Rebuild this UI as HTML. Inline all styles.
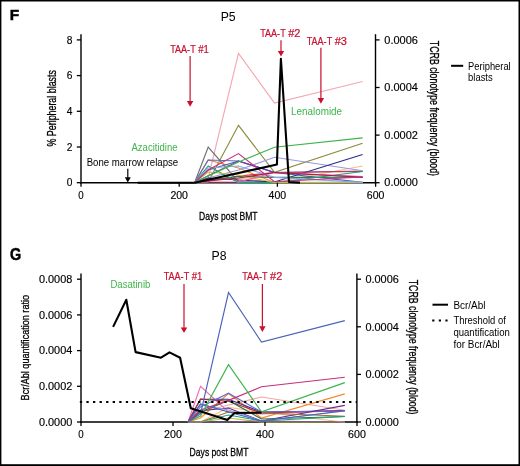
<!DOCTYPE html>
<html><head><meta charset="utf-8"><style>
html,body{margin:0;padding:0;background:#fff;overflow:hidden;width:520px;height:466px;}
svg{display:block;will-change:transform;}
text{font-family:"Liberation Sans", sans-serif;}
</style></head><body>
<svg width="520" height="466" viewBox="0 0 520 466">
<rect width="520" height="466" fill="#fff"/>
<line x1="81" y1="34.2" x2="81" y2="183.4" stroke="#000" stroke-width="1.4" />
<line x1="80.3" y1="182.7" x2="376.2" y2="182.7" stroke="#000" stroke-width="1.4" />
<line x1="375.5" y1="34.2" x2="375.5" y2="183.4" stroke="#000" stroke-width="1.4" />
<line x1="81" y1="273.4" x2="81" y2="422.7" stroke="#000" stroke-width="1.4" />
<line x1="80.3" y1="422" x2="357.6" y2="422" stroke="#000" stroke-width="1.4" />
<line x1="356.9" y1="273.4" x2="356.9" y2="422.7" stroke="#000" stroke-width="1.4" />
<rect x="0" y="0" width="520" height="1.5" fill="#000"/>
<rect x="0" y="0" width="1.4" height="466" fill="#000"/>
<rect x="518.5" y="0" width="1.5" height="466" fill="#000"/>
<rect x="0" y="464.2" width="520" height="1.8" fill="#000"/>
<text x="9.8" y="20.4" font-size="15.4" text-anchor="start" fill="#000" font-weight="bold" stroke="#000" stroke-width="0.5">F</text>
<text x="228.2" y="20.7" font-size="13.6" text-anchor="middle" fill="#000" textLength="15.0" lengthAdjust="spacingAndGlyphs" >P5</text>
<polyline points="194.7,182.5 208.2,178.0 238.5,53.3 274.5,103.0 362.6,81.5" fill="none" stroke="#f4a8b2" stroke-width="1.15" stroke-linejoin="miter" />
<polyline points="194.7,182.5 208.2,182.0 238.5,125.3 274.5,172.4 362.6,143.3" fill="none" stroke="#8c8c3c" stroke-width="1.15" stroke-linejoin="miter" />
<polyline points="194.7,182.5 208.2,147.0 238.5,181.6 274.5,182.5 362.6,182.5" fill="none" stroke="#6e6e6e" stroke-width="1.15" stroke-linejoin="miter" />
<polyline points="194.7,182.5 208.2,160.0 238.5,168.0 274.5,182.5 362.6,182.4" fill="none" stroke="#f58a30" stroke-width="1.15" stroke-linejoin="miter" />
<polyline points="194.7,182.5 208.2,180.0 238.5,178.0 274.5,182.5 362.6,166.0" fill="none" stroke="#f8c080" stroke-width="1.15" stroke-linejoin="miter" />
<polyline points="194.7,182.5 208.2,160.0 238.5,161.0 274.5,172.5 362.6,171.0" fill="none" stroke="#5070c8" stroke-width="1.15" stroke-linejoin="miter" />
<polyline points="194.7,182.5 208.2,170.0 238.5,161.0 274.5,172.5 362.6,182.4" fill="none" stroke="#4060b0" stroke-width="1.15" stroke-linejoin="miter" />
<polyline points="194.7,182.5 208.2,178.0 238.5,170.0 274.5,157.3 362.6,170.8" fill="none" stroke="#9898e0" stroke-width="1.15" stroke-linejoin="miter" />
<polyline points="194.7,182.5 208.2,178.0 238.5,180.0 274.5,182.0 362.6,154.5" fill="none" stroke="#2a2a8a" stroke-width="1.15" stroke-linejoin="miter" />
<polyline points="194.7,182.5 208.2,181.0 238.5,176.0 274.5,172.5 362.6,171.5" fill="none" stroke="#d02a3a" stroke-width="1.15" stroke-linejoin="miter" />
<polyline points="194.7,182.5 208.2,180.0 238.5,176.5 274.5,177.4 362.6,177.2" fill="none" stroke="#2e6e40" stroke-width="1.15" stroke-linejoin="miter" />
<polyline points="194.7,182.5 208.2,166.0 238.5,182.6 274.5,182.8 362.6,171.5" fill="none" stroke="#1fa078" stroke-width="1.15" stroke-linejoin="miter" />
<polyline points="194.7,182.5 208.2,172.0 238.5,175.0 274.5,182.5 362.6,182.4" fill="none" stroke="#c0c040" stroke-width="1.15" stroke-linejoin="miter" />
<polyline points="194.7,182.5 208.2,175.7 238.5,161.0 274.5,172.5 362.6,177.0" fill="none" stroke="#7a3aa0" stroke-width="1.15" stroke-linejoin="miter" />
<polyline points="194.7,182.5 208.2,182.0 238.5,182.0 274.5,172.5 362.6,176.5" fill="none" stroke="#f060a8" stroke-width="1.15" stroke-linejoin="miter" />
<polyline points="194.7,182.5 208.2,168.0 238.5,166.0 274.5,177.4 362.6,182.4" fill="none" stroke="#88a8e8" stroke-width="1.15" stroke-linejoin="miter" />
<polyline points="194.7,182.5 208.2,181.0 238.5,178.0 274.5,172.5 362.6,177.2" fill="none" stroke="#a02040" stroke-width="1.15" stroke-linejoin="miter" />
<polyline points="194.7,182.5 208.2,170.0 238.5,153.6 274.5,181.7 362.6,177.0" fill="none" stroke="#c8307a" stroke-width="1.15" stroke-linejoin="miter" />
<polyline points="194.7,182.5 208.2,176.0 238.5,162.0 274.5,147.3 362.6,137.9" fill="none" stroke="#3cb44b" stroke-width="1.15" stroke-linejoin="miter" />
<line x1="76.8" y1="39.9" x2="81" y2="39.9" stroke="#000" stroke-width="1.3" />
<text x="72.5" y="43.6" font-size="10.2" text-anchor="end" fill="#000" stroke="#000" stroke-width="0.15" >8</text>
<line x1="76.8" y1="75.6" x2="81" y2="75.6" stroke="#000" stroke-width="1.3" />
<text x="72.5" y="79.3" font-size="10.2" text-anchor="end" fill="#000" stroke="#000" stroke-width="0.15" >6</text>
<line x1="76.8" y1="111.30000000000001" x2="81" y2="111.30000000000001" stroke="#000" stroke-width="1.3" />
<text x="72.5" y="115.00000000000001" font-size="10.2" text-anchor="end" fill="#000" stroke="#000" stroke-width="0.15" >4</text>
<line x1="76.8" y1="147.0" x2="81" y2="147.0" stroke="#000" stroke-width="1.3" />
<text x="72.5" y="150.7" font-size="10.2" text-anchor="end" fill="#000" stroke="#000" stroke-width="0.15" >2</text>
<line x1="76.8" y1="182.70000000000002" x2="81" y2="182.70000000000002" stroke="#000" stroke-width="1.3" />
<text x="72.5" y="186.4" font-size="10.2" text-anchor="end" fill="#000" stroke="#000" stroke-width="0.15" >0</text>
<line x1="81.0" y1="182.7" x2="81.0" y2="186.8" stroke="#000" stroke-width="1.3" />
<text x="81.0" y="198.6" font-size="10.2" text-anchor="middle" fill="#000" textLength="5.4" lengthAdjust="spacingAndGlyphs" stroke="#000" stroke-width="0.15" >0</text>
<line x1="179.2" y1="182.7" x2="179.2" y2="186.8" stroke="#000" stroke-width="1.3" />
<text x="179.2" y="198.6" font-size="10.2" text-anchor="middle" fill="#000" textLength="17.6" lengthAdjust="spacingAndGlyphs" stroke="#000" stroke-width="0.15" >200</text>
<line x1="277.4" y1="182.7" x2="277.4" y2="186.8" stroke="#000" stroke-width="1.3" />
<text x="277.4" y="198.6" font-size="10.2" text-anchor="middle" fill="#000" textLength="17.6" lengthAdjust="spacingAndGlyphs" stroke="#000" stroke-width="0.15" >400</text>
<line x1="375.6" y1="182.7" x2="375.6" y2="186.8" stroke="#000" stroke-width="1.3" />
<text x="375.6" y="198.6" font-size="10.2" text-anchor="middle" fill="#000" textLength="17.6" lengthAdjust="spacingAndGlyphs" stroke="#000" stroke-width="0.15" >600</text>
<line x1="375.5" y1="39.9" x2="379.6" y2="39.9" stroke="#000" stroke-width="1.3" />
<text x="384.3" y="43.6" font-size="10.2" text-anchor="start" fill="#000" textLength="33.6" lengthAdjust="spacingAndGlyphs" stroke="#000" stroke-width="0.15" >0.0006</text>
<line x1="375.5" y1="87.5" x2="379.6" y2="87.5" stroke="#000" stroke-width="1.3" />
<text x="384.3" y="91.2" font-size="10.2" text-anchor="start" fill="#000" textLength="33.6" lengthAdjust="spacingAndGlyphs" stroke="#000" stroke-width="0.15" >0.0004</text>
<line x1="375.5" y1="135.1" x2="379.6" y2="135.1" stroke="#000" stroke-width="1.3" />
<text x="384.3" y="138.79999999999998" font-size="10.2" text-anchor="start" fill="#000" textLength="33.6" lengthAdjust="spacingAndGlyphs" stroke="#000" stroke-width="0.15" >0.0002</text>
<line x1="375.5" y1="182.70000000000002" x2="379.6" y2="182.70000000000002" stroke="#000" stroke-width="1.3" />
<text x="384.3" y="186.4" font-size="10.2" text-anchor="start" fill="#000" textLength="33.6" lengthAdjust="spacingAndGlyphs" stroke="#000" stroke-width="0.15" >0.0000</text>
<polyline points="137.7,182.8 194.7,182.7 276.9,164.5 280.9,58.8 289.0,182.0 300.0,182.6" fill="none" stroke="#000" stroke-width="2.1" stroke-linejoin="round" />
<text x="0" y="0" font-size="12.0" text-anchor="middle" fill="#000" textLength="76.4" lengthAdjust="spacingAndGlyphs" stroke="#000" stroke-width="0.3" transform="translate(56.1,108.3) rotate(-90)">% Peripheral blasts</text>
<text x="0" y="0" font-size="12.0" text-anchor="middle" fill="#000" textLength="135.3" lengthAdjust="spacingAndGlyphs" stroke="#000" stroke-width="0.3" transform="translate(430.3,108.4) rotate(90)">TCRB clonotype frequency (blood)</text>
<text x="228.3" y="219.6" font-size="11.5" text-anchor="middle" fill="#000" textLength="58.6" lengthAdjust="spacingAndGlyphs" stroke="#000" stroke-width="0.3">Days post BMT</text>
<text x="170.25" y="52.8" font-size="10" text-anchor="start" fill="#c8102e" textLength="25.4" lengthAdjust="spacingAndGlyphs" stroke="#c8102e" stroke-width="0.2">TAA-T</text>
<text x="198.20000000000002" y="52.8" font-size="10" text-anchor="start" fill="#c8102e" textLength="10.6" lengthAdjust="spacingAndGlyphs" stroke="#c8102e" stroke-width="0.2">#1</text>
<line x1="190.1" y1="55.9" x2="190.1" y2="101.5" stroke="#c8102e" stroke-width="1.2" />
<polygon points="186.9,101.0 193.29999999999998,101.0 190.1,106.7" fill="#c8102e"/>
<text x="260.25" y="36.9" font-size="10" text-anchor="start" fill="#c8102e" textLength="25.4" lengthAdjust="spacingAndGlyphs" stroke="#c8102e" stroke-width="0.2">TAA-T</text>
<text x="288.2" y="36.9" font-size="10" text-anchor="start" fill="#c8102e" textLength="12.2" lengthAdjust="spacingAndGlyphs" stroke="#c8102e" stroke-width="0.2">#2</text>
<line x1="281.0" y1="40.2" x2="281.0" y2="51.4" stroke="#c8102e" stroke-width="1.2" />
<polygon points="277.8,50.9 284.2,50.9 281.0,56.6" fill="#c8102e"/>
<text x="306.75" y="44.7" font-size="10" text-anchor="start" fill="#c8102e" textLength="25.4" lengthAdjust="spacingAndGlyphs" stroke="#c8102e" stroke-width="0.2">TAA-T</text>
<text x="334.7" y="44.7" font-size="10" text-anchor="start" fill="#c8102e" textLength="12.2" lengthAdjust="spacingAndGlyphs" stroke="#c8102e" stroke-width="0.2">#3</text>
<line x1="320.9" y1="47.8" x2="320.9" y2="98.6" stroke="#c8102e" stroke-width="1.2" />
<polygon points="317.7,98.1 324.09999999999997,98.1 320.9,103.8" fill="#c8102e"/>
<text x="291.1" y="114.9" font-size="10" text-anchor="start" fill="#3cb54a" textLength="51.0" lengthAdjust="spacingAndGlyphs" >Lenalomide</text>
<text x="131.5" y="150.8" font-size="10" text-anchor="start" fill="#3cb54a" textLength="46.0" lengthAdjust="spacingAndGlyphs" >Azacitidine</text>
<text x="86.7" y="165.5" font-size="10" text-anchor="start" fill="#000" textLength="91.5" lengthAdjust="spacingAndGlyphs" >Bone marrow relapse</text>
<line x1="127.8" y1="168.7" x2="127.8" y2="177.7" stroke="#000" stroke-width="1.2" />
<polygon points="124.8,177.2 130.8,177.2 127.8,182.6" fill="#000"/>
<line x1="451.1" y1="65.8" x2="463.2" y2="65.8" stroke="#000" stroke-width="2.0" />
<text x="468.1" y="69.5" font-size="10" text-anchor="start" fill="#000" textLength="42.6" lengthAdjust="spacingAndGlyphs" >Peripheral</text>
<text x="468.1" y="81.2" font-size="10" text-anchor="start" fill="#000" textLength="24.6" lengthAdjust="spacingAndGlyphs" >blasts</text>
<text x="9.9" y="259.7" font-size="15.6" text-anchor="start" fill="#000" font-weight="bold" textLength="11.2" lengthAdjust="spacingAndGlyphs" stroke="#000" stroke-width="0.5">G</text>
<text x="219" y="259.5" font-size="13.6" text-anchor="middle" fill="#000" textLength="15.0" lengthAdjust="spacingAndGlyphs" >P8</text>
<polyline points="188.0,422.0 200.5,412.0 228.5,405.0 261.5,397.0 344.8,410.3" fill="none" stroke="#f4a6a6" stroke-width="1.15" stroke-linejoin="miter" />
<polyline points="188.0,422.0 200.5,386.3 228.5,412.0 261.5,414.0 344.8,410.5" fill="none" stroke="#f070b0" stroke-width="1.15" stroke-linejoin="miter" />
<polyline points="188.0,422.0 200.5,418.0 228.5,393.5 261.5,418.0 344.8,393.9" fill="none" stroke="#f58a30" stroke-width="1.15" stroke-linejoin="miter" />
<polyline points="188.0,422.0 200.5,422.0 228.5,407.4 261.5,412.0 344.8,422.2" fill="none" stroke="#f8c080" stroke-width="1.15" stroke-linejoin="miter" />
<polyline points="188.0,422.0 200.5,399.2 228.5,399.2 261.5,412.0 344.8,410.8" fill="none" stroke="#303090" stroke-width="1.15" stroke-linejoin="miter" />
<polyline points="188.0,422.0 200.5,399.2 228.5,401.3 261.5,413.0 344.8,410.5" fill="none" stroke="#b02838" stroke-width="1.15" stroke-linejoin="miter" />
<polyline points="188.0,422.0 200.5,407.0 228.5,393.2 261.5,412.0 344.8,411.0" fill="none" stroke="#6a6ad0" stroke-width="1.15" stroke-linejoin="miter" />
<polyline points="188.0,422.0 200.5,410.8 228.5,408.0 261.5,421.0 344.8,405.4" fill="none" stroke="#6a2a90" stroke-width="1.15" stroke-linejoin="miter" />
<polyline points="188.0,422.0 200.5,412.0 228.5,400.5 261.5,419.0 344.8,416.5" fill="none" stroke="#2e6e40" stroke-width="1.15" stroke-linejoin="miter" />
<polyline points="188.0,422.0 200.5,422.0 228.5,412.0 261.5,413.0 344.8,416.2" fill="none" stroke="#a06a30" stroke-width="1.15" stroke-linejoin="miter" />
<polyline points="188.0,422.0 200.5,422.0 228.5,415.0 261.5,421.0 344.8,416.5" fill="none" stroke="#1fa078" stroke-width="1.15" stroke-linejoin="miter" />
<polyline points="188.0,422.0 200.5,422.0 228.5,418.0 261.5,422.0 344.8,422.0" fill="none" stroke="#c0c040" stroke-width="1.15" stroke-linejoin="miter" />
<polyline points="188.0,422.0 200.5,405.0 228.5,410.0 261.5,421.0 344.8,411.0" fill="none" stroke="#88a8e8" stroke-width="1.15" stroke-linejoin="miter" />
<polyline points="188.0,422.0 200.5,422.0 228.5,422.0 261.5,421.0 344.8,422.0" fill="none" stroke="#7a5a8a" stroke-width="1.15" stroke-linejoin="miter" />
<polyline points="188.0,422.0 200.5,404.0 228.5,412.0 261.5,421.0 344.8,410.8" fill="none" stroke="#4060b0" stroke-width="1.15" stroke-linejoin="miter" />
<polyline points="188.0,422.0 200.5,410.0 228.5,400.4 261.5,386.8 344.8,377.2" fill="none" stroke="#c8307a" stroke-width="1.15" stroke-linejoin="miter" />
<polyline points="188.0,422.0 200.5,416.0 228.5,364.6 261.5,411.9 344.8,382.6" fill="none" stroke="#3cb44b" stroke-width="1.15" stroke-linejoin="miter" />
<polyline points="188.0,422.0 200.5,414.0 228.5,292.5 261.5,342.0 344.8,320.6" fill="none" stroke="#4c64b6" stroke-width="1.15" stroke-linejoin="miter" />
<line x1="77" y1="279.2" x2="81" y2="279.2" stroke="#000" stroke-width="1.3" />
<text x="72.3" y="282.9" font-size="10.2" text-anchor="end" fill="#000" textLength="33.4" lengthAdjust="spacingAndGlyphs" stroke="#000" stroke-width="0.15" >0.0008</text>
<line x1="77" y1="314.9" x2="81" y2="314.9" stroke="#000" stroke-width="1.3" />
<text x="72.3" y="318.59999999999997" font-size="10.2" text-anchor="end" fill="#000" textLength="33.4" lengthAdjust="spacingAndGlyphs" stroke="#000" stroke-width="0.15" >0.0006</text>
<line x1="77" y1="350.6" x2="81" y2="350.6" stroke="#000" stroke-width="1.3" />
<text x="72.3" y="354.3" font-size="10.2" text-anchor="end" fill="#000" textLength="33.4" lengthAdjust="spacingAndGlyphs" stroke="#000" stroke-width="0.15" >0.0004</text>
<line x1="77" y1="386.3" x2="81" y2="386.3" stroke="#000" stroke-width="1.3" />
<text x="72.3" y="390.0" font-size="10.2" text-anchor="end" fill="#000" textLength="33.4" lengthAdjust="spacingAndGlyphs" stroke="#000" stroke-width="0.15" >0.0002</text>
<line x1="77" y1="422.0" x2="81" y2="422.0" stroke="#000" stroke-width="1.3" />
<text x="72.3" y="425.7" font-size="10.2" text-anchor="end" fill="#000" textLength="33.4" lengthAdjust="spacingAndGlyphs" stroke="#000" stroke-width="0.15" >0.0000</text>
<line x1="81" y1="422" x2="81" y2="426.1" stroke="#000" stroke-width="1.3" />
<text x="81" y="437.9" font-size="10.2" text-anchor="middle" fill="#000" textLength="5.4" lengthAdjust="spacingAndGlyphs" stroke="#000" stroke-width="0.15" >0</text>
<line x1="173" y1="422" x2="173" y2="426.1" stroke="#000" stroke-width="1.3" />
<text x="173" y="437.9" font-size="10.2" text-anchor="middle" fill="#000" textLength="17.8" lengthAdjust="spacingAndGlyphs" stroke="#000" stroke-width="0.15" >200</text>
<line x1="265" y1="422" x2="265" y2="426.1" stroke="#000" stroke-width="1.3" />
<text x="265" y="437.9" font-size="10.2" text-anchor="middle" fill="#000" textLength="17.8" lengthAdjust="spacingAndGlyphs" stroke="#000" stroke-width="0.15" >400</text>
<line x1="357" y1="422" x2="357" y2="426.1" stroke="#000" stroke-width="1.3" />
<text x="357" y="437.9" font-size="10.2" text-anchor="middle" fill="#000" textLength="17.8" lengthAdjust="spacingAndGlyphs" stroke="#000" stroke-width="0.15" >600</text>
<line x1="356.9" y1="279.2" x2="361" y2="279.2" stroke="#000" stroke-width="1.3" />
<text x="365.4" y="282.9" font-size="10.2" text-anchor="start" fill="#000" textLength="33.4" lengthAdjust="spacingAndGlyphs" stroke="#000" stroke-width="0.15" >0.0006</text>
<line x1="356.9" y1="326.8" x2="361" y2="326.8" stroke="#000" stroke-width="1.3" />
<text x="365.4" y="330.5" font-size="10.2" text-anchor="start" fill="#000" textLength="33.4" lengthAdjust="spacingAndGlyphs" stroke="#000" stroke-width="0.15" >0.0004</text>
<line x1="356.9" y1="374.4" x2="361" y2="374.4" stroke="#000" stroke-width="1.3" />
<text x="365.4" y="378.09999999999997" font-size="10.2" text-anchor="start" fill="#000" textLength="33.4" lengthAdjust="spacingAndGlyphs" stroke="#000" stroke-width="0.15" >0.0002</text>
<line x1="356.9" y1="422.0" x2="361" y2="422.0" stroke="#000" stroke-width="1.3" />
<text x="365.4" y="425.7" font-size="10.2" text-anchor="start" fill="#000" textLength="33.4" lengthAdjust="spacingAndGlyphs" stroke="#000" stroke-width="0.15" >0.0000</text>
<line x1="79.85" y1="401.9" x2="357" y2="401.9" stroke="#000" stroke-width="2.0" stroke-dasharray="2.3 4.267"/>
<polyline points="113.1,326.9 126.3,299.8 135.6,352.1 161.0,357.7 169.5,352.4 180.1,357.7 190.8,408.2 227.3,420.0 234.5,413.0 261.5,412.6" fill="none" stroke="#000" stroke-width="2.1" stroke-linejoin="round" />
<text x="0" y="0" font-size="11.7" text-anchor="middle" fill="#000" textLength="105.4" lengthAdjust="spacingAndGlyphs" stroke="#000" stroke-width="0.3" transform="translate(29,347.7) rotate(-90)">Bcr/Abl quantification ratio</text>
<text x="0" y="0" font-size="12.0" text-anchor="middle" fill="#000" textLength="134.8" lengthAdjust="spacingAndGlyphs" stroke="#000" stroke-width="0.3" transform="translate(409.1,347.1) rotate(90)">TCRB clonotype frequency (blood)</text>
<text x="219" y="455.6" font-size="11.5" text-anchor="middle" fill="#000" textLength="58.8" lengthAdjust="spacingAndGlyphs" stroke="#000" stroke-width="0.3">Days post BMT</text>
<text x="110.4" y="287.5" font-size="10" text-anchor="start" fill="#3cb54a" textLength="40" lengthAdjust="spacingAndGlyphs" >Dasatinib</text>
<text x="163.75" y="280.0" font-size="10" text-anchor="start" fill="#c8102e" textLength="25.4" lengthAdjust="spacingAndGlyphs" stroke="#c8102e" stroke-width="0.2">TAA-T</text>
<text x="191.70000000000002" y="280.0" font-size="10" text-anchor="start" fill="#c8102e" textLength="10.6" lengthAdjust="spacingAndGlyphs" stroke="#c8102e" stroke-width="0.2">#1</text>
<line x1="184" y1="284" x2="184" y2="327.90000000000003" stroke="#c8102e" stroke-width="1.2" />
<polygon points="180.8,327.40000000000003 187.2,327.40000000000003 184,333.1" fill="#c8102e"/>
<text x="242.14999999999998" y="280.0" font-size="10" text-anchor="start" fill="#c8102e" textLength="25.4" lengthAdjust="spacingAndGlyphs" stroke="#c8102e" stroke-width="0.2">TAA-T</text>
<text x="270.09999999999997" y="280.0" font-size="10" text-anchor="start" fill="#c8102e" textLength="12.2" lengthAdjust="spacingAndGlyphs" stroke="#c8102e" stroke-width="0.2">#2</text>
<line x1="262.4" y1="284" x2="262.4" y2="326.8" stroke="#c8102e" stroke-width="1.2" />
<polygon points="259.2,326.3 265.59999999999997,326.3 262.4,332" fill="#c8102e"/>
<line x1="432.5" y1="304.7" x2="448" y2="304.7" stroke="#000" stroke-width="2.0" />
<text x="453.4" y="309.0" font-size="10" text-anchor="start" fill="#000" textLength="32" lengthAdjust="spacingAndGlyphs" >Bcr/Abl</text>
<line x1="432.2" y1="320.6" x2="448.5" y2="320.6" stroke="#000" stroke-width="2.0" stroke-dasharray="2.2 4.4"/>
<text x="453.4" y="323.5" font-size="10" text-anchor="start" fill="#000" textLength="52.4" lengthAdjust="spacingAndGlyphs" >Threshold of</text>
<text x="453.4" y="335.7" font-size="10" text-anchor="start" fill="#000" textLength="56.4" lengthAdjust="spacingAndGlyphs" >quantification</text>
<text x="453.4" y="347.5" font-size="10" text-anchor="start" fill="#000" textLength="46.4" lengthAdjust="spacingAndGlyphs" >for Bcr/Abl</text>
</svg>
</body></html>
